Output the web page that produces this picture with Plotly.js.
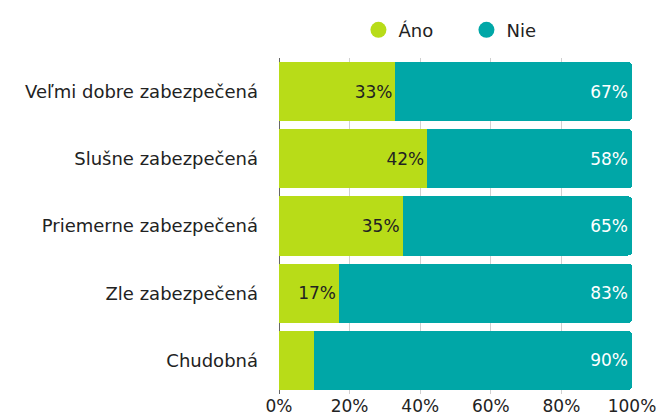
<!DOCTYPE html>
<html><head><meta charset="utf-8">
<script src="https://cdn.plot.ly/plotly-3.0.1.min.js"></script>
<style>body{margin:0;background:#fff}#chart{width:657px;height:414px}</style>
</head><body><div id="chart"></div>
<script>
const categories = ["Veľmi dobre zabezpečená","Slušne zabezpečená","Priemerne zabezpečená","Zle zabezpečená","Chudobná"];
const ano = [33, 42, 35, 17, 10];
const nie = [67, 58, 65, 83, 90];
const anoLabels = ["33%","42%","35%","17%",""];
const nieLabels = ["67%","58%","65%","83%","90%"];
const tickVals = [0,20,40,60,80,100];
const tickText = ["0%","20%","40%","60%","80%","100%"];
const cAno = "#b8dc18", cNie = "#00a7a7";
const font = "DejaVu Sans, Open Sans, sans-serif";
const data = [
 {type:"bar", orientation:"h", y:categories, x:ano, name:"Áno", marker:{color:cAno},
  text:anoLabels, textposition:"inside", insidetextanchor:"end", textangle:0,
  textfont:{color:"#222", size:17, family:font}, showlegend:false, hoverinfo:"x+y"},
 {type:"bar", orientation:"h", y:categories, x:nie, name:"Nie", marker:{color:cNie},
  text:nieLabels, textposition:"inside", insidetextanchor:"end", textangle:0,
  textfont:{color:"#ffffff", size:17, family:font}, showlegend:false, hoverinfo:"x+y"},
 {type:"scatter", mode:"markers", x:[null], y:[null], name:"Áno", marker:{color:cAno, size:18, symbol:"circle"}},
 {type:"scatter", mode:"markers", x:[null], y:[null], name:"Nie", marker:{color:cNie, size:18, symbol:"circle"}}
];
const layout = {
 width:657, height:414, barmode:"stack", bargap:0.12, barcornerradius:4,
 margin:{l:279, r:25, t:56, b:20},
 paper_bgcolor:"#fff", plot_bgcolor:"#fff",
 font:{family:font, size:16, color:"#222"},
 xaxis:{range:[0,100], tickvals:tickVals, ticktext:tickText, showgrid:true, gridcolor:"#d0d0d0",
   zeroline:true, zerolinecolor:"#666", zerolinewidth:1, fixedrange:true, tickfont:{size:17}},
 yaxis:{autorange:"reversed", ticklabelstandoff:20, showgrid:false, fixedrange:true, tickfont:{size:18}},
 legend:{orientation:"h", traceorder:"normal", x:0.531, xanchor:"center", y:1.083, yanchor:"middle",
   font:{size:18}, itemsizing:"trace", entrywidth:63, entrywidthmode:"pixels"},
 showlegend:true
};
Plotly.newPlot("chart", data, layout, {displayModeBar:false, staticPlot:true});
</script></body></html>
